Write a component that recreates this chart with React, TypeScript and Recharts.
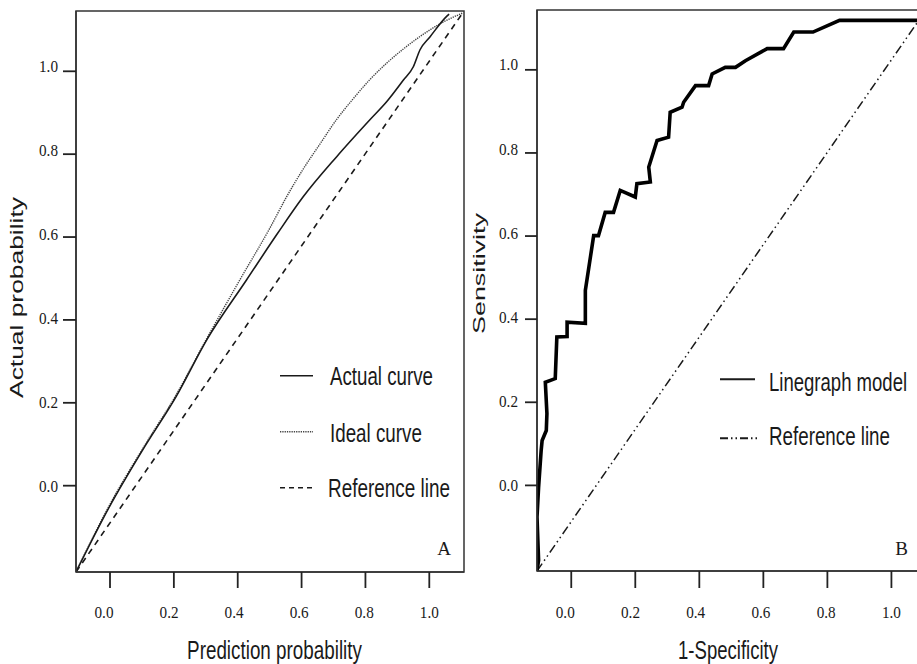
import { LineChart, Line, XAxis, YAxis, ReferenceArea } from 'recharts'

// calibration panel (A)
const calXDomain = [-0.1065, 1.1087]
const calYDomain = [-0.2083, 1.1455]
const actualCurveX = [-0.1065, -0.002, 0.102, 0.207, 0.303, 0.428, 0.525, 0.605, 0.71, 0.814, 0.867, 0.919, 0.95, 0.971, 1.002, 1.055, 1.062]
const actualCurveY = [-0.2083, -0.051, 0.086, 0.215, 0.352, 0.497, 0.609, 0.697, 0.794, 0.883, 0.927, 0.979, 1.011, 1.052, 1.083, 1.133, 1.138]
const idealCurveX = [-0.1065, -0.003, 0.102, 0.207, 0.303, 0.407, 0.501, 0.553, 0.605, 0.658, 0.71, 0.762, 0.814, 0.867, 0.919, 0.971, 1.002, 1.044, 1.106]
const idealCurveY = [-0.2083, -0.049, 0.089, 0.219, 0.355, 0.497, 0.622, 0.697, 0.764, 0.825, 0.884, 0.934, 0.98, 1.02, 1.054, 1.084, 1.1, 1.119, 1.141]
const calRefX = [-0.1065, 1.1087]
const calRefY = [-0.2083, 1.1455]

// ROC panel (B)
const rocXDomain = [-0.107, 1.108]
const rocYDomain = [-0.206, 1.144]
const rocX = [-0.107, -0.102, -0.107, -0.102, -0.094, -0.091, -0.078, -0.076, -0.081, -0.05, -0.045, -0.013, -0.013, 0.044, 0.044, 0.07, 0.085, 0.106, 0.132, 0.153, 0.2, 0.205, 0.247, 0.242, 0.268, 0.304, 0.309, 0.346, 0.351, 0.388, 0.429, 0.44, 0.481, 0.513, 0.544, 0.612, 0.663, 0.695, 0.755, 0.838, 1.108]
const rocY = [-0.206, -0.18, -0.076, -0.004, 0.084, 0.108, 0.132, 0.173, 0.248, 0.257, 0.357, 0.358, 0.393, 0.39, 0.469, 0.601, 0.601, 0.657, 0.657, 0.71, 0.694, 0.726, 0.73, 0.766, 0.83, 0.838, 0.898, 0.91, 0.922, 0.962, 0.962, 0.99, 1.006, 1.006, 1.022, 1.051, 1.051, 1.091, 1.091, 1.119, 1.119]
const rocRefX = [-0.107, 1.108]
const rocRefY = [-0.206, 1.144]

const ticks = [0, 0.2, 0.4, 0.6, 0.8, 1.0]

const zip = (xs: number[], ys: number[]) => xs.map((x, i) => ({ x, y: ys[i] }))

const SERIF = '"Liberation Serif", "Times New Roman", serif'
const SANS = '"Liberation Sans", Arial, sans-serif'
const INK = '#1a1a1a'

function YTick({ x, y, payload }: any) {
  const v = payload.value
  return (
    <text x={x} y={y - 5.5 * v + 6} textAnchor="end" fontFamily={SERIF} fontSize={17.5} fill={INK}
      textLength={19} lengthAdjust="spacingAndGlyphs">
      {v.toFixed(1)}
    </text>
  )
}

function XTick({ x, y, payload }: any) {
  const v = payload.value
  return (
    <text x={x - 6 * (1 - v)} y={y + 28} textAnchor="middle" fontFamily={SERIF} fontSize={17.5} fill={INK}
      textLength={19} lengthAdjust="spacingAndGlyphs">
      {v.toFixed(1)}
    </text>
  )
}

const axisLine = { stroke: '#333', strokeWidth: 1.5 }
const tickLine = { stroke: '#222', strokeWidth: 1.8 }

// narrow sans text: em = natural width in em (Liberation Sans = Arial metrics), len = target width
function Label({ x, y, text, em, len, size = 25, anchor = 'start', rotate = 0 }: any) {
  const sx = len / (em * size)
  return (
    <text transform={`translate(${x},${y}) rotate(${rotate}) scale(${sx.toFixed(3)},1)`} fontFamily={SANS}
      fontSize={size} fill={INK} textAnchor={anchor}>
      {text}
    </text>
  )
}

export default function App() {
  return (
    <div style={{ position: 'absolute', left: 0, top: 0, width: 917, height: 664, overflow: 'hidden', background: '#fff' }}>
      <div style={{ position: 'absolute', left: 0, top: 0 }}>
        <LineChart width={480} height={664} margin={{ top: 11, right: 16, bottom: 0, left: 0 }}>
          <XAxis type="number" dataKey="x" domain={calXDomain} ticks={ticks} interval={0} allowDataOverflow
            height={92} tickSize={16} tickMargin={2} tick={<XTick />} axisLine={axisLine} tickLine={tickLine} />
          <YAxis type="number" dataKey="y" domain={calYDomain} ticks={ticks} interval={0} allowDataOverflow
            width={76} tickSize={13} tickMargin={5} tick={<YTick />} axisLine={axisLine} tickLine={tickLine} />
          <ReferenceArea x1={calXDomain[0]} x2={calXDomain[1]} y1={calYDomain[0]} y2={calYDomain[1]}
            fill="none" stroke="#333" strokeWidth={1.5} ifOverflow="visible" />
          <Line data={zip(calRefX, calRefY)} dataKey="y" type="linear" stroke={INK} strokeWidth={1.6}
            strokeDasharray="6 5" dot={false} isAnimationActive={false} />
          <Line data={zip(idealCurveX, idealCurveY)} dataKey="y" type="monotone" stroke="#444" strokeWidth={1.4}
            strokeDasharray="1.3 1" dot={false} isAnimationActive={false} />
          <Line data={zip(actualCurveX, actualCurveY)} dataKey="y" type="monotone" stroke={INK} strokeWidth={1.6}
            dot={false} isAnimationActive={false} />
        </LineChart>
      </div>

      <div style={{ position: 'absolute', left: 460, top: 0 }}>
        <LineChart width={482} height={664} margin={{ top: 10, right: 16, bottom: 0, left: 0 }}>
          <XAxis type="number" dataKey="x" domain={rocXDomain} ticks={ticks} interval={0} allowDataOverflow
            height={93} tickSize={17} tickMargin={2} tick={<XTick />} axisLine={axisLine} tickLine={tickLine} />
          <YAxis type="number" dataKey="y" domain={rocYDomain} ticks={ticks} interval={0} allowDataOverflow
            width={77} tickSize={12} tickMargin={7} tick={<YTick />} axisLine={axisLine} tickLine={tickLine} />
          <ReferenceArea x1={rocXDomain[0]} x2={rocXDomain[1]} y1={rocYDomain[0]} y2={rocYDomain[1]}
            fill="none" stroke="#333" strokeWidth={1.5} ifOverflow="visible" />
          <Line data={zip(rocRefX, rocRefY)} dataKey="y" type="linear" stroke={INK} strokeWidth={1.5}
            strokeDasharray="9 3.5 1.5 3.5 1.5 3.5" dot={false} isAnimationActive={false} />
          <Line data={zip(rocX, rocY)} dataKey="y" type="linear" stroke="#000" strokeWidth={3.6}
            dot={false} isAnimationActive={false} />
        </LineChart>
      </div>

      {/* axis titles, legends and panel letters */}
      <svg width={917} height={664} style={{ position: 'absolute', left: 0, top: 0, pointerEvents: 'none' }}>
        <Label x={23} y={297.5} rotate={-90} text="Actual probability" em={7.614} len={201} size={18} anchor="middle" />
        <Label x={274.5} y={659} text="Prediction probability" em={9.281} len={175} anchor="middle" />
        <Label x={485} y={273.5} rotate={-90} text="Sensitivity" em={4.501} len={121} size={16} anchor="middle" />
        <Label x={728} y={659} text="1-Specificity" em={5.39} len={100} anchor="middle" />

        <line x1={280} x2={313} y1={375.7} y2={375.7} stroke={INK} strokeWidth={1.6} />
        <Label x={330} y={385} text="Actual curve" em={5.502} len={103} />
        <line x1={280} x2={313} y1={431.7} y2={431.7} stroke="#444" strokeWidth={1.4} strokeDasharray="1.3 1" />
        <Label x={330} y={441.7} text="Ideal curve" em={4.891} len={92} />
        <line x1={280} x2={313} y1={487.7} y2={487.7} stroke={INK} strokeWidth={1.6} strokeDasharray="5 4" />
        <Label x={328} y={496.7} text="Reference line" em={6.447} len={122} />
        <text x={444} y={555} textAnchor="middle" fontFamily={SERIF} fontSize={19} fill={INK}>A</text>

        <line x1={720} x2={755} y1={379.3} y2={379.3} stroke={INK} strokeWidth={2} />
        <Label x={769} y={391} text="Linegraph model" em={7.444} len={138} />
        <line x1={720} x2={757} y1={438.3} y2={438.3} stroke={INK} strokeWidth={2} strokeDasharray="8 3 1.5 3 1.5 3" />
        <Label x={769} y={445} text="Reference line" em={6.447} len={121} />
        <text x={901.7} y={555} textAnchor="middle" fontFamily={SERIF} fontSize={19} fill={INK}>B</text>
      </svg>
    </div>
  )
}
